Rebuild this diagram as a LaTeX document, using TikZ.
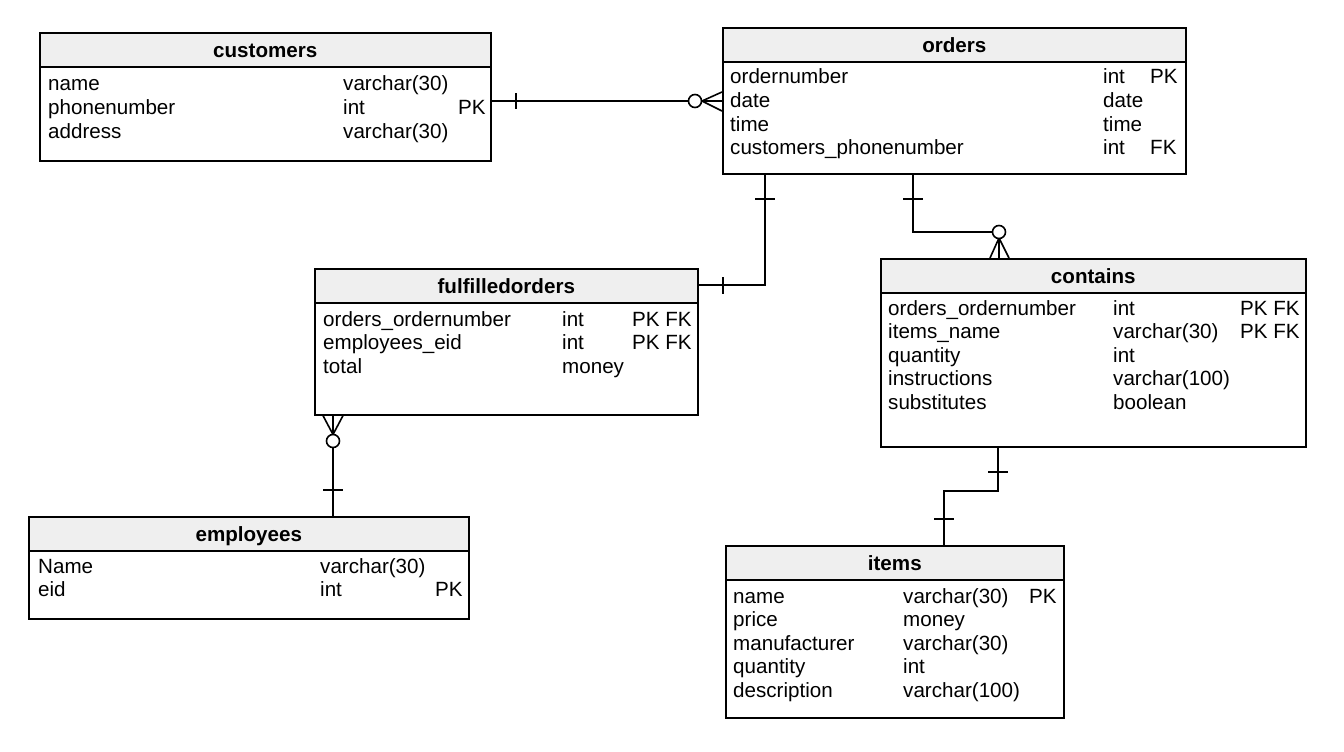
\documentclass[tikz,border=0pt]{standalone}
\usepackage{fontspec}
\setmainfont{Liberation Sans}
\definecolor{hdrgray}{HTML}{EFEFEF}
\begin{document}
\begin{tikzpicture}[x=1pt,y=-1pt,
  every node/.style={font=\fontsize{20.6}{24}\selectfont},
  tbl/.style={draw, line width=1.6pt, fill=white, anchor=north west, inner sep=0pt},
  hdr/.style={draw, line width=1.6pt, fill=hdrgray, anchor=north west, inner sep=0pt, minimum height=34pt, text height=15pt, text depth=0pt, font=\fontsize{20.6}{24}\selectfont\bfseries},
  fld/.style={anchor=base west, inner sep=0pt},
  conn/.style={line width=1.6pt},
  ring/.style={line width=1.6pt, fill=white}]
\useasboundingbox (0,0) rectangle (1344,752);

% ---------- customers ----------
\node[tbl, minimum width=451pt, minimum height=128pt] (cust) at (39,32) {};
\node[hdr, minimum width=451pt] (custh) at (39,32) {customers};
\node[fld] (cust1a) at (48,91) {name};
\node[fld] (cust1b) at (343,91) {varchar(30)};
\node[fld] (cust2a) at (48,114.5) {phonenumber};
\node[fld] (cust2b) at (343,114.5) {int};
\node[fld] (cust2c) at (458,114.5) {PK};
\node[fld] (cust3a) at (48,138) {address};
\node[fld] (cust3b) at (343,138) {varchar(30)};

% ---------- orders ----------
\node[tbl, minimum width=463pt, minimum height=146pt] (ord) at (722,27) {};
\node[hdr, minimum width=463pt] (ordh) at (722,27) {orders};
\node[fld] (ord1a) at (730,84) {ordernumber};
\node[fld] (ord1b) at (1103,84) {int};
\node[fld] (ord1c) at (1150,84) {PK};
\node[fld] (ord2a) at (730,107.5) {date};
\node[fld] (ord2b) at (1103,107.5) {date};
\node[fld] (ord3a) at (730,131) {time};
\node[fld] (ord3b) at (1103,131) {time};
\node[fld] (ord4a) at (730,154.5) {customers\_phonenumber};
\node[fld] (ord4b) at (1103,154.5) {int};
\node[fld] (ord4c) at (1150,154.5) {FK};

% ---------- fulfilledorders ----------
\node[tbl, minimum width=383pt, minimum height=146pt] (ful) at (314,268) {};
\node[hdr, minimum width=383pt] (fulh) at (314,268) {fulfilledorders};
\node[fld] (ful1a) at (323,326) {orders\_ordernumber};
\node[fld] (ful1b) at (562,326) {int};
\node[fld] (ful1c) at (632,326) {PK FK};
\node[fld] (ful2a) at (323,349.5) {employees\_eid};
\node[fld] (ful2b) at (562,349.5) {int};
\node[fld] (ful2c) at (632,349.5) {PK FK};
\node[fld] (ful3a) at (323,373) {total};
\node[fld] (ful3b) at (562,373) {money};

% ---------- contains ----------
\node[tbl, minimum width=425pt, minimum height=188pt] (con) at (880,258) {};
\node[hdr, minimum width=425pt] (conh) at (880,258) {contains};
\node[fld] (con1a) at (888,315) {orders\_ordernumber};
\node[fld] (con1b) at (1113,315) {int};
\node[fld] (con1c) at (1240,315) {PK FK};
\node[fld] (con2a) at (888,338.5) {items\_name};
\node[fld] (con2b) at (1113,338.5) {varchar(30)};
\node[fld] (con2c) at (1240,338.5) {PK FK};
\node[fld] (con3a) at (888,362) {quantity};
\node[fld] (con3b) at (1113,362) {int};
\node[fld] (con4a) at (888,385.5) {instructions};
\node[fld] (con4b) at (1113,385.5) {varchar(100)};
\node[fld] (con5a) at (888,409) {substitutes};
\node[fld] (con5b) at (1113,409) {boolean};

% ---------- employees ----------
\node[tbl, minimum width=440pt, minimum height=102pt] (emp) at (28,516) {};
\node[hdr, minimum width=440pt] (emph) at (28,516) {employees};
\node[fld] (emp1a) at (38,573) {Name};
\node[fld] (emp1b) at (320,573) {varchar(30)};
\node[fld] (emp2a) at (38,596.5) {eid};
\node[fld] (emp2b) at (320,596.5) {int};
\node[fld] (emp2c) at (435,596.5) {PK};

% ---------- items ----------
\node[tbl, minimum width=338pt, minimum height=172pt] (itm) at (725,545) {};
\node[hdr, minimum width=338pt] (itmh) at (725,545) {items};
\node[fld] (itm1a) at (733,603) {name};
\node[fld] (itm1b) at (903,603) {varchar(30)};
\node[fld] (itm1c) at (1029,603) {PK};
\node[fld] (itm2a) at (733,626.5) {price};
\node[fld] (itm2b) at (903,626.5) {money};
\node[fld] (itm3a) at (733,650) {manufacturer};
\node[fld] (itm3b) at (903,650) {varchar(30)};
\node[fld] (itm4a) at (733,673.5) {quantity};
\node[fld] (itm4b) at (903,673.5) {int};
\node[fld] (itm5a) at (733,697) {description};
\node[fld] (itm5b) at (903,697) {varchar(100)};

% ---------- customers -- orders ----------
\coordinate (r1) at (695,101);
\draw[conn] (cust.east |- r1) -- (689,101);
\draw[conn] (516,93) -- (516,109);
\draw[conn] (702,101) -- (ord.west |- 0,92);
\draw[conn] (702,101) -- (ord.west |- r1);
\draw[conn] (702,101) -- (ord.west |- 0,111);
\draw[ring] (r1) circle[radius=6.5];

% ---------- orders -- fulfilledorders ----------
\draw[conn] (ord.south -| 765,0) -- (765,285) -- (ful.east |- 0,285);
\draw[conn] (755,199) -- (775,199);
\draw[conn] (723,277) -- (723,294);

% ---------- orders -- contains ----------
\coordinate (r2) at (999,232);
\draw[conn] (ord.south -| 913,0) -- (913,232) -- (992.5,232);
\draw[conn] (903,199) -- (923,199);
\draw[conn] (999,238) -- (con.north -| 990,0);
\draw[conn] (999,238) -- (con.north -| r2);
\draw[conn] (999,238) -- (con.north -| 1009,0);
\draw[ring] (r2) circle[radius=6.5];

% ---------- fulfilledorders -- employees ----------
\coordinate (r3) at (333,441);
\draw[conn] (333,434.5) -- (ful.south -| 323,0);
\draw[conn] (333,434.5) -- (ful.south -| r3);
\draw[conn] (333,434.5) -- (ful.south -| 343,0);
\draw[conn] (333,447.5) -- (emp.north -| r3);
\draw[conn] (323,490) -- (343,490);
\draw[ring] (r3) circle[radius=6.5];

% ---------- contains -- items ----------
\draw[conn] (con.south -| 998,0) -- (998,491) -- (944,491) -- (itm.north -| 944,0);
\draw[conn] (988,472) -- (1008,472);
\draw[conn] (934,519) -- (954,519);
\end{tikzpicture}
\end{document}
